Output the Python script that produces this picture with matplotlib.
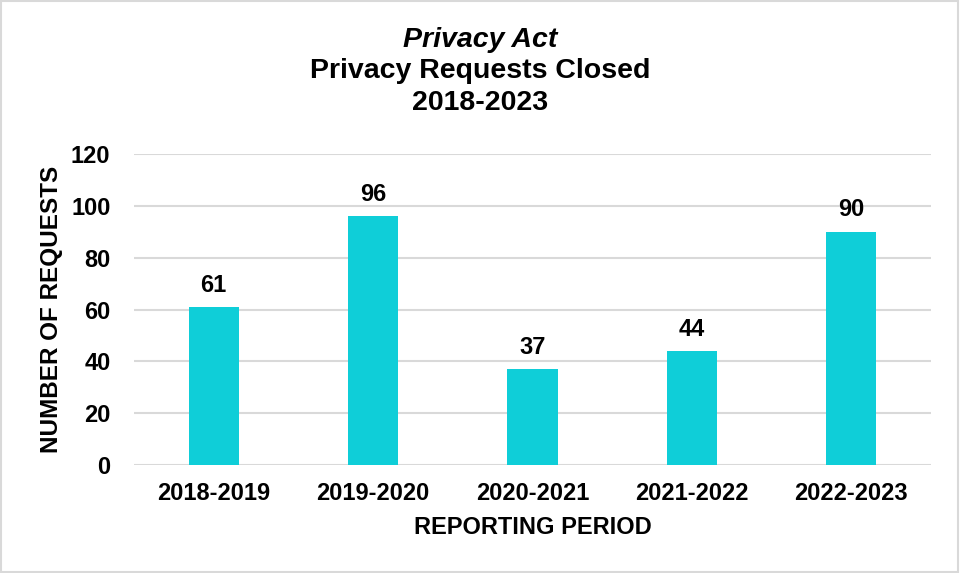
import matplotlib.pyplot as plt
from matplotlib.patches import Rectangle

periods = ['2018-2019', '2019-2020', '2020-2021', '2021-2022', '2022-2023']
requests = [61, 96, 37, 44, 90]
y_ticks = [0, 20, 40, 60, 80, 100, 120]

plt.rcParams['font.family'] = ['Liberation Sans', 'DejaVu Sans']

fig = plt.figure(figsize=(9.6, 5.73), dpi=100)
ax = fig.add_axes([0.1396, 0.1885, 0.8302, 0.5427])

x = range(len(periods))
bars = ax.bar(x, requests, width=0.314, color='#0FCED8', zorder=3)
for b, v in zip(bars, requests):
    ax.annotate(str(v), (b.get_x() + b.get_width() / 2, v), xytext=(0, 11),
                textcoords='offset points', ha='center', va='baseline',
                fontsize=17, fontweight='bold')

ax.set_xlim(-0.5, len(periods) - 0.5)
ax.set_ylim(0, 120)
ax.set_yticks(y_ticks)
ax.set_xticks(list(x))
ax.set_xticklabels(periods)
ax.grid(axis='y', color='#D9D9D9', linewidth=1.5, zorder=0)
for s in ax.spines.values():
    s.set_visible(False)
ax.tick_params(length=0, labelsize=17)
ax.tick_params(axis='x', pad=12)
ax.tick_params(axis='y', pad=17)
for lbl in ax.get_xticklabels() + ax.get_yticklabels():
    lbl.set_fontweight('bold')

ax.set_xlabel('REPORTING PERIOD', fontsize=17, fontweight='bold', labelpad=8)
ax.set_ylabel('NUMBER OF REQUESTS', fontsize=17.5, fontweight='bold', labelpad=6)

fig.text(0.5, 0.918, 'Privacy Act', ha='center', va='baseline',
         fontsize=20.5, fontweight='bold', style='italic')
fig.text(0.5, 0.864, 'Privacy Requests Closed', ha='center', va='baseline',
         fontsize=20.5, fontweight='bold')
fig.text(0.5, 0.808, '2018-2023', ha='center', va='baseline',
         fontsize=20.5, fontweight='bold')

fig.patches.append(Rectangle((0.001, 0.001), 0.997, 0.997, transform=fig.transFigure,
                             fill=False, edgecolor='#D9D9D9', linewidth=1.5))

fig.savefig('out.png', dpi=100)
